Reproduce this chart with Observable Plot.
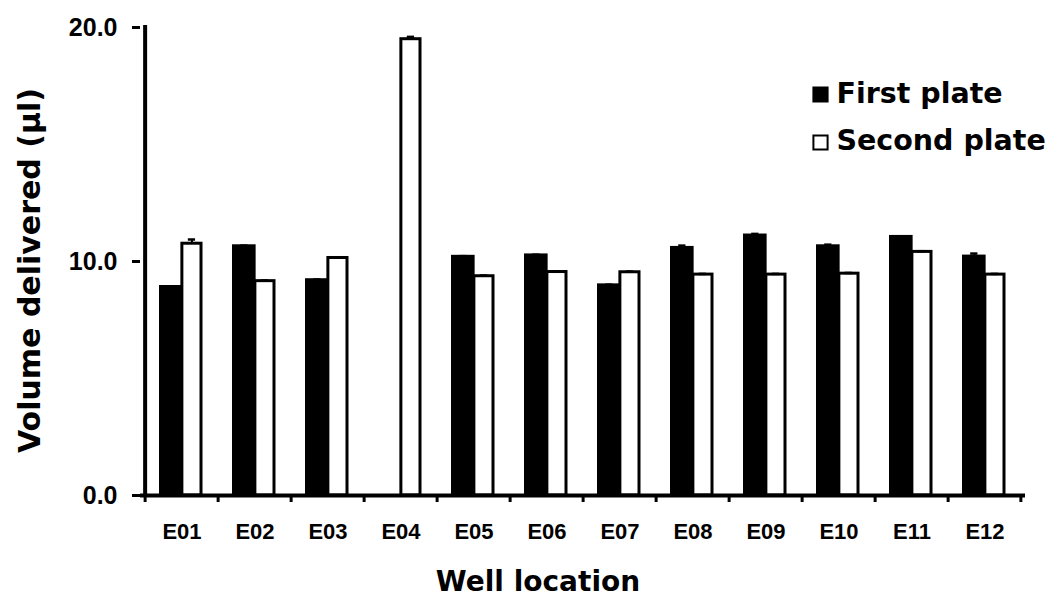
<!DOCTYPE html>
<html>
<head>
<meta charset="utf-8">
<script src="https://cdn.jsdelivr.net/npm/d3@7"></script>
<script src="https://cdn.jsdelivr.net/npm/@observablehq/plot@0.6"></script>
<style>
  html, body { margin: 0; padding: 0; background: white; }
</style>
</head>
<body>
<div id="chart"></div>
<script>
const wells = ["E01","E02","E03","E04","E05","E06","E07","E08","E09","E10","E11","E12"];
const firstPlate  = [8.91, 10.65, 9.20, null, 10.20, 10.26, 8.98, 10.58, 11.11, 10.65, 11.05, 10.21];
const secondPlate = [10.76, 9.16, 10.15, 19.50, 9.37, 9.55, 9.54, 9.44, 9.44, 9.48, 10.41, 9.44];
const firstErr    = [0.03, 0.03, 0.03, null, 0.03, 0.03, 0.03, 0.10, 0.07, 0.07, 0.03, 0.13];
const secondErr   = [0.18, 0.03, 0.03, 0.10, 0.03, 0.03, 0.03, 0.03, 0.03, 0.03, 0.03, 0.03];
const yTicks = [0, 10, 20];
const seriesNames = ["First plate", "Second plate"];
const xTitle = "Well location";
const yTitle = "Volume delivered (µl)";

const rows = wells.map((w, i) => ({
  well: w, first: firstPlate[i], second: secondPlate[i],
  firstErr: firstErr[i], secondErr: secondErr[i]
}));
const firstRows = rows.filter(d => d.first != null);

const W = 1057, ML = 140, MR = 32;
const band = (W - ML - MR) / wells.length;
const half = band / 2;
const fInL = 15.5, sInR = 17;
const fCenter = (fInL + half) / 2;
const sCenter = (half + band - sInR) / 2;
const capW = 8;

const titleFont = "DejaVu Sans, Verdana, sans-serif";

const chart = Plot.plot({
  width: W,
  height: 600,
  marginTop: 27,
  marginLeft: ML,
  marginRight: MR,
  marginBottom: 105,
  style: { fontFamily: "Liberation Sans, Arial, Helvetica, sans-serif", fontWeight: "bold", background: "white", color: "black" },
  x: { domain: wells, padding: 0, axis: null },
  y: { domain: [0, 20], axis: null },
  marks: [
    Plot.barY(firstRows, { x: "well", y: "first", fill: "black", stroke: "black", strokeWidth: 3, insetLeft: fInL, insetRight: half }),
    Plot.barY(rows, { x: "well", y: "second", fill: "white", stroke: "black", strokeWidth: 3, insetLeft: half, insetRight: sInR }),
    Plot.ruleX(firstRows, { x: "well", y1: "first", y2: d => d.first + d.firstErr, dx: fCenter - half, stroke: "black", strokeWidth: 2 }),
    Plot.tickY(firstRows, { x: "well", y: d => d.first + d.firstErr, stroke: "black", strokeWidth: 2.5, insetLeft: fCenter - capW / 2, insetRight: band - fCenter - capW / 2 }),
    Plot.ruleX(rows, { x: "well", y1: "second", y2: d => d.second + d.secondErr, dx: sCenter - half, stroke: "black", strokeWidth: 2 }),
    Plot.tickY(rows, { x: "well", y: d => d.second + d.secondErr, stroke: "black", strokeWidth: 2.5, insetLeft: sCenter - capW / 2, insetRight: band - sCenter - capW / 2 }),
    Plot.ruleY([0], { stroke: "black", strokeWidth: 4 }),
    Plot.ruleX([wells[0]], { dx: -half, y1: 0, y2: 20, stroke: "black", strokeWidth: 4, strokeLinecap: "square" }),
    Plot.ruleX(wells, { x: d => d, dx: -half, y1: 0, y2: -0.3, stroke: "black", strokeWidth: 3 }),
    Plot.ruleX([wells[wells.length - 1]], { x: d => d, dx: half - 1, y1: 0, y2: -0.3, stroke: "black", strokeWidth: 3 }),
    Plot.axisY({ ticks: yTicks, tickSize: 8, tickPadding: 15, tickFormat: d3.format(".1f"), fontSize: 25, fontWeight: "bold", strokeWidth: 3, label: null }),
    Plot.axisX({ tickSize: 0, tickPadding: 28, fontSize: 22, fontWeight: "bold", label: null }),
    Plot.text([xTitle], { text: d => d, frameAnchor: "bottom", textAnchor: "middle", dx: -45, dy: 87, fontSize: 28, fontFamily: titleFont, fontWeight: "bold", lineAnchor: "middle", fill: "black" }),
    Plot.text([yTitle], { text: d => d, frameAnchor: "left", textAnchor: "middle", rotate: -90, dx: -110, dy: 9, fontSize: 30, fontFamily: titleFont, fontWeight: "bold", lineAnchor: "middle", fill: "black" }),
    Plot.dot([seriesNames[0]], { frameAnchor: "top-left", dx: 820 - ML, dy: 94 - 27, symbol: "square", r: 8, fill: "black", stroke: "black", strokeWidth: 2 }),
    Plot.dot([seriesNames[1]], { frameAnchor: "top-left", dx: 820 - ML, dy: 142 - 27, symbol: "square", r: 8, fill: "white", stroke: "black", strokeWidth: 2 }),
    Plot.text([seriesNames[0]], { text: d => d, frameAnchor: "top-left", textAnchor: "start", dx: 836 - ML, dy: 93 - 27, fontSize: 28.5, fontFamily: titleFont, fontWeight: "bold", lineAnchor: "middle", fill: "black" }),
    Plot.text([seriesNames[1]], { text: d => d, frameAnchor: "top-left", textAnchor: "start", dx: 836 - ML, dy: 140 - 27, fontSize: 28.5, fontFamily: titleFont, fontWeight: "bold", lineAnchor: "middle", fill: "black" })
  ]
});
document.getElementById("chart").appendChild(chart);
</script>
</body>
</html>
